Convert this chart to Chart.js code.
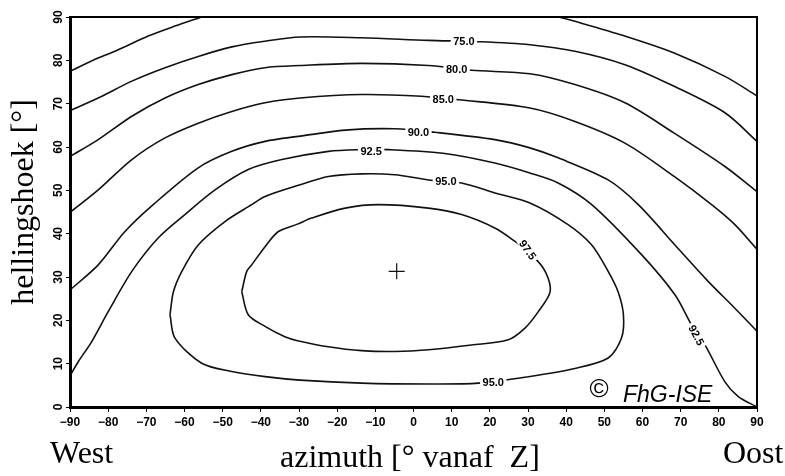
<!DOCTYPE html>
<html>
<head>
<meta charset="utf-8">
<script src="https://cdn.jsdelivr.net/npm/chart.js@4.4.0/dist/chart.umd.min.js"></script>
<style>
  html, body { margin: 0; padding: 0; background: #fff; }
  canvas { display: block; }
</style>
</head>
<body>
<canvas id="chart" width="785" height="476"></canvas>
<script>
// tick labels
const xTicks = [-90, -80, -70, -60, -50, -40, -30, -20, -10, 0, 10, 20, 30, 40, 50, 60, 70, 80, 90];
const yTicks = [0, 10, 20, 30, 40, 50, 60, 70, 80, 90];

// contour lines, points as [azimuth, tilt]
const c70West = [[-90, 77.5], [-82.5, 80.6], [-78.2, 82.1], [-69.5, 85.6], [-62.5, 87.9], [-55.5, 90]];
const c70East = [[38, 90], [42.3, 89.0], [55.4, 85.6], [68.3, 81.7], [81.6, 76.3], [90, 71.8]];
const c75 = [[-90, 68.4], [-82.6, 71.3], [-73.8, 75.2], [-65.1, 78.3], [-56.4, 80.9], [-47.6, 83.1], [-38.9, 84.4],
  [-29.7, 85.4], [-13.6, 85.2], [3.9, 84.6], [17.0, 84.3], [30.5, 83.6], [42.3, 82.1], [55.4, 79.0], [68.3, 74.0],
  [81.6, 67.9], [90, 61.3]];
const c80 = [[-90, 57.8], [-82.6, 61.7], [-73.8, 67.1], [-65.1, 71.3], [-56.4, 74.4], [-47.6, 76.7], [-38.9, 78.3],
  [-29.7, 78.8], [-13.6, 79.3], [3.9, 78.8], [15.2, 77.7], [30.5, 76.9], [42.3, 74.4], [55.4, 70.2], [68.3, 63.2],
  [81.6, 55.5], [90, 49.7]];
const c85 = [[-90, 44.9], [-82.6, 50.1], [-73.8, 57.1], [-65.1, 62.1], [-56.4, 65.5], [-47.6, 68.2], [-38.9, 70.2],
  [-29.7, 71.3], [-13.6, 72.1], [2.1, 71.7], [11.8, 70.9], [30.5, 69.0], [42.3, 65.9], [55.4, 60.9], [68.3, 53.2],
  [78.1, 46.7], [84.2, 42.1], [90, 36.4]];
const c90 = [[-90, 27.0], [-82.6, 32.8], [-75.6, 40.5], [-68.2, 46.7], [-56.4, 55.2], [-47.6, 59.0],
  [-38.9, 61.3], [-29.7, 62.5], [-17.9, 63.9], [-4.9, 64.2], [5.6, 63.4], [21.3, 61.7], [30.5, 59.8], [37.9, 57.5],
  [51.0, 52.4], [58.9, 46.7], [68.5, 37.4], [77.2, 29.0], [84.2, 22.8], [90, 17.5]];
const c925 = [[-90, 7.2], [-87.8, 10.5], [-84.3, 15.1], [-80.0, 22.0], [-73.8, 31.3], [-66.9, 39.0], [-59.9, 44.4],
  [-52.0, 50.1], [-43.3, 54.8], [-34.5, 57.1], [-22.3, 59.0], [-13.6, 59.4], [-6.6, 59.4], [8.2, 58.5], [21.3, 56.3],
  [30.5, 54.0], [37.9, 51.7], [46.7, 46.7], [59.8, 35.1], [68.5, 25.9], [72.9, 18.9], [76.4, 14.3], [81.6, 5.8],
  [85.1, 2.4], [90, 0]];
const c95 = [[-63.8, 21.3], [-62.9, 26.6], [-60.7, 31.3], [-56.4, 37.4], [-49.4, 42.8], [-42.4, 46.7], [-38.9, 48.6],
  [-29.7, 51.3], [-22.3, 53.2], [-13.6, 53.8], [-4.9, 53.6], [3.9, 52.4], [12.6, 51.7], [21.3, 49.4], [30.5, 47.1],
  [40.5, 42.1], [46.7, 37.4], [51.0, 31.3], [53.6, 26.6], [55.0, 21.3], [54.5, 15.9], [51.0, 11.3], [42.3, 8.9],
  [30.1, 7.0], [17.0, 5.5], [3.9, 5.3], [-13.6, 5.5], [-29.7, 6.2], [-38.9, 7.0], [-47.6, 8.2], [-55.5, 10.1],
  [-62.5, 15.9], [-63.8, 21.3]];
const c975 = [[-45.0, 26.6], [-43.7, 31.3], [-42.4, 32.8], [-38.9, 37.0], [-35.4, 40.5], [-30.4, 42.2], [-26.7, 43.6],
  [-17.9, 45.9], [-9.2, 46.7], [3.9, 45.9], [12.6, 44.4], [21.3, 41.3], [26.6, 38.2], [31.0, 35.1], [34.5, 31.3],
  [35.8, 26.6], [32.7, 22.0], [29.2, 18.2], [24.8, 15.5], [15.2, 14.3], [3.9, 13.2], [-4.9, 12.8], [-13.6, 13.0],
  [-22.3, 13.9], [-30.4, 15.3], [-33.7, 16.2], [-38.9, 18.6], [-43.3, 21.3], [-45.0, 26.6]];

// optimum marker
const optimum = [-4.4, 31.3];

// contour labels: text, azimuth, tilt, angle
const contourLabels = [
  ['75.0', 13.2, 84.4, 0],
  ['80.0', 11.3, 78.0, 0],
  ['85.0', 7.8, 71.1, 0],
  ['90.0', 1.3, 63.4, 0],
  ['92.5', -11.1, 59.0, 0],
  ['95.0', 8.5, 52.1, 0],
  ['95.0', 20.9, 5.8, 0],
  ['97.5', 30.0, 36.3, 55],
  ['92.5', 74.2, 16.6, 62]
];

const toXY = pts => pts.map(p => ({ x: p[0], y: p[1] }));

function contour(pts) {
  return {
    data: toXY(pts),
    showLine: true,
    borderColor: '#111',
    borderWidth: 1.6,
    pointRadius: 0,
    tension: 0.3,
    fill: false
  };
}

const decor = {
  id: 'decor',
  afterDatasetsDraw(chart) {
    const ctx = chart.ctx, xs = chart.scales.x, ys = chart.scales.y;
    ctx.save();
    ctx.font = 'bold 11px "Liberation Sans", Arial, sans-serif';
    ctx.textAlign = 'center';
    ctx.textBaseline = 'middle';
    contourLabels.forEach(l => {
      const px = xs.getPixelForValue(l[1]), py = ys.getPixelForValue(l[2]);
      ctx.save();
      ctx.translate(px, py);
      ctx.rotate(l[3] * Math.PI / 180);
      const w = ctx.measureText(l[0]).width + 5;
      ctx.fillStyle = '#fff';
      ctx.fillRect(-w / 2, -5, w, 10);
      ctx.fillStyle = '#000';
      ctx.fillText(l[0], 0, 1);
      ctx.restore();
    });
    ctx.restore();
  },
  afterDraw(chart) {
    const ctx = chart.ctx, a = chart.chartArea, ys = chart.scales.y;
    ctx.save();
    // frame
    ctx.strokeStyle = '#000';
    ctx.lineWidth = 2;
    ctx.strokeRect(a.left, a.top, a.right - a.left, a.bottom - a.top);

    // y tick labels, turned on their side
    ctx.fillStyle = '#000';
    ctx.font = 'bold 12px "Liberation Sans", Arial, sans-serif';
    ctx.textAlign = 'center';
    ctx.textBaseline = 'middle';
    yTicks.forEach(v => {
      ctx.save();
      ctx.translate(59, ys.getPixelForValue(v));
      ctx.rotate(-Math.PI / 2);
      ctx.fillText(String(v), 0, 0);
      ctx.restore();
    });

    // axis titles
    ctx.font = '32px "Liberation Serif", "Times New Roman", serif';
    ctx.save();
    ctx.translate(25, 202);
    ctx.rotate(-Math.PI / 2);
    ctx.fillText('hellingshoek [°]', 0, 0);
    ctx.restore();
    ctx.textAlign = 'left';
    ctx.textBaseline = 'alphabetic';
    ctx.fillText('West', 50, 463);
    ctx.fillText('Oost', 723, 463);
    ctx.fillText('azimuth [° vanaf  Z]', 280, 467);

    // copyright
    ctx.font = '26px "Liberation Sans", Arial, sans-serif';
    ctx.textAlign = 'center';
    ctx.textBaseline = 'middle';
    ctx.fillText('©', 599, 390);
    ctx.font = 'italic 23px "Liberation Sans", Arial, sans-serif';
    ctx.textAlign = 'left';
    ctx.textBaseline = 'alphabetic';
    ctx.fillText('FhG-ISE', 623, 402);
    ctx.restore();
  }
};

const datasets = [c70West, c70East, c75, c80, c85, c90, c925, c95, c975].map(contour);
datasets.push({
  data: toXY([optimum]),
  pointStyle: 'cross',
  pointRadius: 8,
  borderColor: '#111',
  borderWidth: 1.2,
  showLine: false
});

new Chart(document.getElementById('chart'), {
  type: 'scatter',
  data: { datasets: datasets },
  options: {
    responsive: false,
    animation: false,
    layout: { padding: { top: 17, right: 28, left: 0, bottom: 0 } },
    plugins: { legend: { display: false }, tooltip: { enabled: false } },
    scales: {
      x: {
        type: 'linear',
        min: -90,
        max: 90,
        afterBuildTicks: s => { s.ticks = xTicks.map(v => ({ value: v })); },
        afterFit: s => { s.height = 69; },
        ticks: {
          color: '#000',
          padding: 3,
          maxRotation: 0,
          font: { family: '"Liberation Sans", Arial, sans-serif', size: 12, weight: 'bold' },
          callback: v => (v < 0 ? '−' + Math.abs(v) : String(v))
        },
        grid: { drawOnChartArea: false, drawTicks: true, tickLength: 5, color: '#000' },
        border: { display: true, color: '#000', width: 3 }
      },
      y: {
        type: 'linear',
        min: 0,
        max: 90,
        afterBuildTicks: s => { s.ticks = yTicks.map(v => ({ value: v })); },
        afterFit: s => { s.width = 70; },
        ticks: { display: false },
        grid: { drawOnChartArea: false, drawTicks: true, tickLength: 4, color: '#000' },
        border: { display: true, color: '#000', width: 3 }
      }
    }
  },
  plugins: [decor]
});
</script>
</body>
</html>
